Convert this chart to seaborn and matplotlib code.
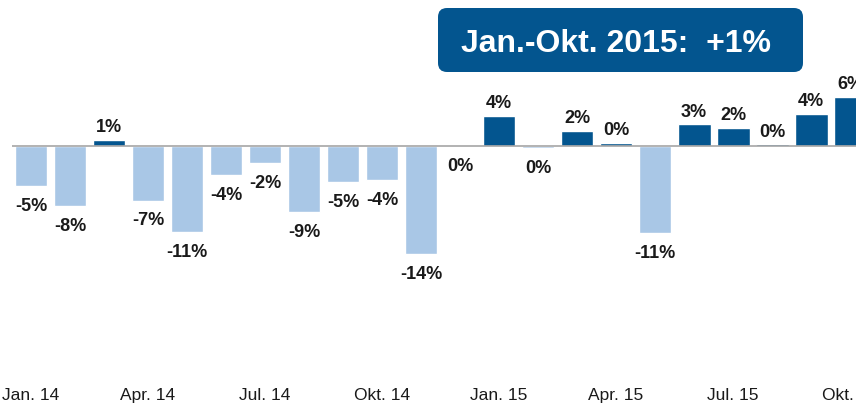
import matplotlib
matplotlib.use("Agg")
import matplotlib.pyplot as plt
from matplotlib.patches import FancyBboxPatch
import seaborn as sns
import pandas as pd

months = ["Jan. 14", "Feb. 14", "Mär. 14", "Apr. 14", "Mai 14", "Jun. 14",
          "Jul. 14", "Aug. 14", "Sep. 14", "Okt. 14", "Nov. 14", "Dez. 14",
          "Jan. 15", "Feb. 15", "Mär. 15", "Apr. 15", "Mai 15", "Jun. 15",
          "Jul. 15", "Aug. 15", "Sep. 15", "Okt. 15"]
values = [-5.2, -7.8, 0.8, -7.1, -11.2, -3.8, -2.2, -8.6, -4.7, -4.4, -14.0, 0.0,
          3.9, -0.3, 2.0, 0.4, -11.3, 2.8, 2.4, 0.2, 4.2, 6.4]
value_labels = ["-5%", "-8%", "1%", "-7%", "-11%", "-4%", "-2%", "-9%", "-5%", "-4%",
                "-14%", "0%", "4%", "0%", "2%", "0%", "-11%", "3%", "2%", "0%", "4%", "6%"]
tick_labels = ["Jan. 14", "Apr. 14", "Jul. 14", "Okt. 14",
               "Jan. 15", "Apr. 15", "Jul. 15", "Okt. 15"]
title_text = "Jan.-Okt. 2015:  +1%"

DARK = "#03558f"
LIGHT = "#a9c7e6"

sns.set_style("white")
plt.rcParams["font.family"] = ["Liberation Sans", "DejaVu Sans"]

df = pd.DataFrame({"month": months, "value": values,
                   "sign": ["pos" if v > 0 else "neg" for v in values]})

fig = plt.figure(figsize=(8.56, 4.11), dpi=100)
ax = fig.add_axes([0, 29 / 411, 1, 382 / 411])

sns.barplot(data=df, x="month", y="value", hue="sign",
            palette={"pos": DARK, "neg": LIGHT}, dodge=False,
            width=0.84, legend=False, ax=ax, saturation=1)

n = len(months)
ax.hlines(0, -0.5, n - 0.5, color="#a6a6a6", linewidth=1.2, zorder=3)

for i, (v, lab) in enumerate(zip(values, value_labels)):
    if v > 0:
        ax.annotate(lab, (i, v), xytext=(0, 2.5), textcoords="offset points",
                    ha="center", va="bottom", fontsize=13, fontweight="bold",
                    color="#1a1a1a")
    else:
        ax.annotate(lab, (i, v), xytext=(0, -8.5), textcoords="offset points",
                    ha="center", va="top", fontsize=13, fontweight="bold",
                    color="#1a1a1a")

ax.set_xlim(-0.795, 21.15)
ax.set_ylim(-30.65, 18.96)
ax.set_xticks(range(0, n, 3))
ax.set_xticklabels(tick_labels, fontsize=12.5, color="#1a1a1a")
ax.tick_params(axis="x", length=0, pad=4)
ax.set_yticks([])
ax.set_xlabel("")
ax.set_ylabel("")
for s in ax.spines.values():
    s.set_visible(False)
ax.patch.set_alpha(0)

box = FancyBboxPatch((4.38, (411 - 72) / 100), 3.65, 0.64,
                     boxstyle="round,pad=0,rounding_size=0.09",
                     transform=fig.dpi_scale_trans, facecolor=DARK,
                     edgecolor="none", zorder=5)
fig.patches.append(box)
fig.text(616 / 856, (411 - 52) / 411, title_text, ha="center", va="baseline",
         fontsize=23, fontweight="bold", color="white", zorder=6)

fig.savefig("out.png", dpi=100)
